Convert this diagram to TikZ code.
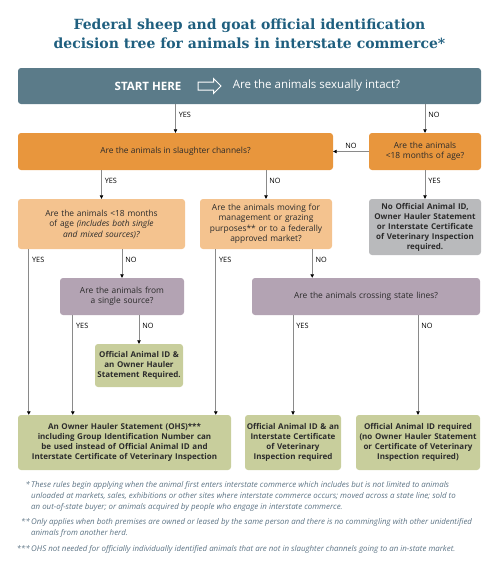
\documentclass[tikz,border=0pt]{standalone}
\usepackage{fontspec}
\setmainfont{Open Sans}
\newfontfamily\titlefont{DejaVu Serif}
\usetikzlibrary{arrows.meta,positioning,calc,shapes.arrows}
\definecolor{titleblue}{HTML}{1F5F7F}
\definecolor{startslate}{HTML}{5B7B89}
\definecolor{askorange}{HTML}{E8963D}
\definecolor{asklight}{HTML}{F4C38F}
\definecolor{askmauve}{HTML}{B3A3B3}
\definecolor{resgreen}{HTML}{C8CE9C}
\definecolor{resgray}{HTML}{B9BABC}
\definecolor{linegray}{HTML}{8A8A8A}
\definecolor{txtdark}{HTML}{2B2B2B}
\definecolor{notegray}{HTML}{5C7384}

\begin{document}
\begin{tikzpicture}[x=1pt, y=-1pt,
  box/.style={rounded corners=3pt, align=center, inner sep=1pt, text=txtdark,
              font=\fontsize{8.4}{10.5}\selectfont},
  ask/.style={box, fill=askorange},
  sub/.style={box, fill=asklight},
  src/.style={box, fill=askmauve},
  res/.style={box, fill=resgreen, font=\fontsize{8}{10}\selectfont\bfseries},
  none/.style={box, fill=resgray, font=\fontsize{8}{10}\selectfont\bfseries},
  arr/.style={draw=linegray, line width=0.7pt,
              -{Triangle[length=3.5pt,width=3.5pt,color=black]}},
  tag/.style={pos=0, anchor=west, xshift=3pt, yshift=-10.5pt, inner sep=0pt,
              font=\fontsize{7.3}{8}\selectfont, text=black},
  note/.style={anchor=base west, align=left, inner sep=0pt, text=notegray,
               font=\fontsize{7.9}{10.8}\selectfont\itshape}
]
\useasboundingbox (0,0) rectangle (499,570);

\node[align=center, text=titleblue, font=\titlefont\bfseries\fontsize{14}{19}\selectfont]
  (title) at (249.5,34) {Federal sheep and goat official identification\\
  decision tree for animals in interstate commerce*};

% start bar
\node[box, fill=startslate, minimum width=463pt, minimum height=36pt] (start) at (249.5,86) {};
\node[text=white, font=\fontsize{11.5}{13}\selectfont\bfseries] (starthere) at (148,86) {START HERE};
\node[single arrow, draw=white, line width=1pt, inner sep=3.5pt, minimum height=23pt,
      single arrow head extend=3.5pt] (startarr) at (207.5,86) {};
\node[text=white, font=\fontsize{11.5}{13}\selectfont] (intact) at (316.5,86) {Are the animals sexually intact?};

% questions
\node[ask, minimum width=315pt, minimum height=37pt] (slaughter) at (175.5,151.5)
  {Are the animals in slaughter channels?};
\node[ask, text width=110pt, minimum height=37pt] (young) at (425,151.5)
  {Are the animals\\<18 months of age?};
\node[none, text width=110pt, minimum height=56pt] (noid) at (425,227)
  {No Official Animal ID,\\Owner Hauler Statement\\or Interstate Certificate\\of Veterinary Inspection\\required.};
\node[sub, text width=165pt, minimum height=50pt] (age) at (101.5,224)
  {Are the animals <18 months\\of age \textit{(includes both single}\\\textit{and mixed sources)?}};
\node[sub, text width=130pt, minimum height=50pt] (moving) at (266,224)
  {Are the animals moving for\\management or grazing\\purposes** or to a federally\\approved market?};
\node[src, text width=122pt, minimum height=37pt] (single) at (122,296.5)
  {Are the animals from\\a single source?};
\node[res, text width=86pt, minimum height=43pt] (idhauler) at (139,365.5)
  {Official Animal ID \&\\an Owner Hauler\\Statement Required.};
\node[src, text width=226pt, minimum height=37pt] (crossing) at (366,296.5)
  {Are the animals crossing state lines?};

% outcomes
\node[res, text width=211pt, minimum height=55pt] (ohs) at (124.5,442.5)
  {An Owner Hauler Statement (OHS)***\\including Group Identification Number can\\be used instead of Official Animal ID and\\Interstate Certificate of Veterinary Inspection};
\node[res, text width=94pt, minimum height=55pt] (ici) at (293,442.5)
  {Official Animal ID \& an\\Interstate Certificate\\of Veterinary\\Inspection required};
\node[res, text width=122pt, minimum height=55pt] (idonly) at (418,442.5)
  {Official Animal ID required\\(no Owner Hauler Statement\\or Certificate of Veterinary\\Inspection required)};

% connectors
\draw[arr] (start.south -| slaughter.north) -- (slaughter.north) node[tag] {YES};
\draw[arr] (start.south -| young.north) -- (young.north) node[tag] {NO};
\draw[arr] (young.west) -- (slaughter.east)
  node[pos=0.5, anchor=south, yshift=3pt, inner sep=0pt, font=\fontsize{7.3}{8}\selectfont] {NO};
\draw[arr] (young.south) -- (noid.north) node[tag] {YES};
\draw[arr] (slaughter.south -| age.north) -- (age.north) node[tag] {YES};
\draw[arr] (slaughter.south -| moving.north) -- (moving.north) node[tag] {NO};
\draw[arr] ([xshift=11pt]age.south west) -- ([xshift=11pt]age.south west |- ohs.north) node[tag] {YES};
\draw[arr] (age.south -| single.north) -- (single.north) node[tag] {NO};
\draw[arr] ([xshift=13pt]single.south west) -- ([xshift=13pt]single.south west |- ohs.north) node[tag] {YES};
\draw[arr] (single.south -| idhauler.north) -- (idhauler.north) node[tag] {NO};
\draw[arr] ([xshift=16pt]moving.south west) -- ([xshift=16pt]moving.south west |- ohs.north) node[tag] {YES};
\draw[arr] ([xshift=-20pt]moving.south east) -- ([xshift=-20pt]moving.south east |- crossing.north) node[tag] {NO};
\draw[arr] (crossing.south -| ici.north) -- (ici.north) node[tag] {YES};
\draw[arr] (crossing.south -| idonly.north) -- (idonly.north) node[tag] {NO};

% footnotes
\node[note] (note1) at (31,509) {\llap{*\,}These rules begin applying when the animal first enters interstate commerce which includes but is not limited to animals\\
  unloaded at markets, sales, exhibitions or other sites where interstate commerce occurs; moved across a state line; sold to\\
  an out-of-state buyer; or animals acquired by people who engage in interstate commerce.};
\node[note] (note2) at (31,535.5) {\llap{**\,}Only applies when both premises are owned or leased by the same person and there is no commingling with other unidentified\\
  animals from another herd.};
\node[note] (note3) at (31,551) {\llap{***\,}OHS not needed for officially individually identified animals that are not in slaughter channels going to an in-state market.};
\end{tikzpicture}
\end{document}
